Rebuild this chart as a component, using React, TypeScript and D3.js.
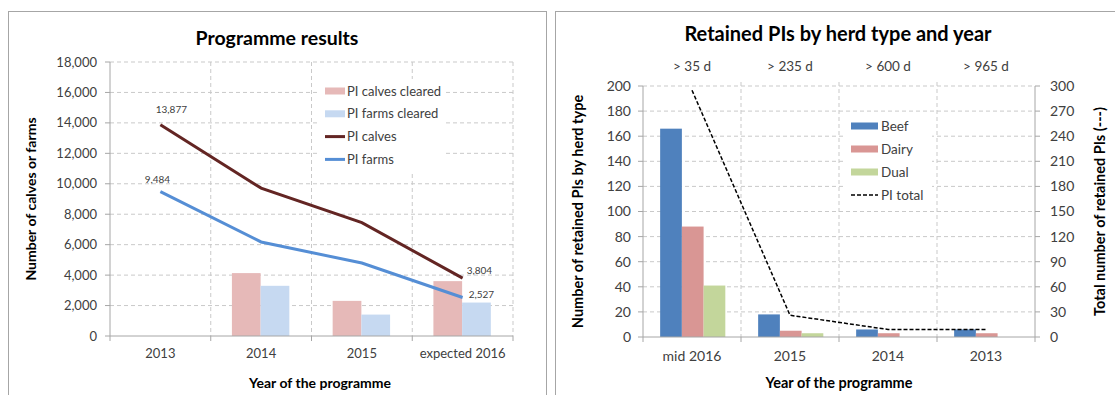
import React from 'react';
import * as d3 from 'd3';

// Programme results (left chart)
const yearsL = ['2013', '2014', '2015', 'expected 2016'];
const piCalves = [13877, 9714, 7444, 3804];
const piFarms = [9484, 6178, 4791, 2527];
const calvesCleared = [0, 4132, 2308, 3604];
const farmsCleared = [0, 3297, 1407, 2198];
const yTicksL = [0, 2000, 4000, 6000, 8000, 10000, 12000, 14000, 16000, 18000];

// Retained PIs by herd type and year (right chart)
const yearsR = ['mid 2016', '2015', '2014', '2013'];
const periodsR = ['> 35 d', '> 235 d', '> 600 d', '> 965 d'];
const beef = [166, 18, 6, 6];
const dairy = [88, 5, 3, 3];
const dual = [41, 3, 0, 0];
const piTotal = [295, 26, 9, 9];
const yTicksR = [0, 20, 40, 60, 80, 100, 120, 140, 160, 180, 200];
const yTicksR2 = [0, 30, 60, 90, 120, 150, 180, 210, 240, 270, 300];

const FONT = 'Lato, "Open Sans", "DejaVu Sans", sans-serif';
const GRID = '#C9C9C9';
const AXIS = '#A6A6A6';
const TICK_TEXT = '#404040';

const C_CALVES_BAR = '#E6B9B8';
const C_FARMS_BAR = '#C6D9F1';
const C_CALVES_LINE = '#632523';
const C_FARMS_LINE = '#558ED5';
const C_BEEF = '#4F81BD';
const C_DAIRY = '#D99694';
const C_DUAL = '#C3D69B';

const fmt = d3.format(',');

function LeftChart() {
  const x = d3.scaleBand<string>().domain(yearsL).range([110, 513]);
  const y = d3.scaleLinear().domain([0, 18000]).range([336, 62]);
  const bw = x.bandwidth();
  const inner = d3.scaleBand<string>().domain(['calves', 'farms']).range([bw * 0.21, bw * 0.78]);
  const cx = (c: string) => (x(c) as number) + bw / 2;

  const line = d3
    .line<number>()
    .x((_, i) => cx(yearsL[i]))
    .y((d) => y(d));

  const boundaries = yearsL.map((c) => (x(c) as number) + bw);

  const calvesPts = piCalves.map((v, i) => [cx(yearsL[i]), y(v)]);
  const farmsPts = piFarms.map((v, i) => [cx(yearsL[i]), y(v)]);
  const last = yearsL.length - 1;

  const legendRows = [
    { label: 'PI calves cleared', kind: 'bar', color: C_CALVES_BAR },
    { label: 'PI farms cleared', kind: 'bar', color: C_FARMS_BAR },
    { label: 'PI calves', kind: 'line', color: C_CALVES_LINE },
    { label: 'PI farms', kind: 'line', color: C_FARMS_LINE },
  ];

  return (
    <g fontFamily={FONT}>
      <rect x={8.5} y={11.5} width={538} height={400} fill="#fff" stroke={AXIS} strokeWidth={1} />
      <text x={277} y={45} textAnchor="middle" fontSize={19.5} fontWeight="bold" fill="#000">
        Programme results
      </text>

      {/* grid */}
      {yTicksL.slice(1).map((t) => (
        <line key={'h' + t} x1={110} x2={513} y1={y(t)} y2={y(t)} stroke={GRID} strokeDasharray="4,3" />
      ))}
      {boundaries.map((b, i) => (
        <line key={'v' + i} x1={b} x2={b} y1={y(18000)} y2={y(0)} stroke={GRID} strokeDasharray="4,3" />
      ))}

      {/* bars */}
      {yearsL.map((c, i) => (
        <g key={'b' + c}>
          {calvesCleared[i] > 0 && (
            <rect
              x={(x(c) as number) + (inner('calves') as number)}
              y={y(calvesCleared[i])}
              width={inner.bandwidth()}
              height={y(0) - y(calvesCleared[i])}
              fill={C_CALVES_BAR}
            />
          )}
          {farmsCleared[i] > 0 && (
            <rect
              x={(x(c) as number) + (inner('farms') as number)}
              y={y(farmsCleared[i])}
              width={inner.bandwidth()}
              height={y(0) - y(farmsCleared[i])}
              fill={C_FARMS_BAR}
            />
          )}
        </g>
      ))}

      {/* axes */}
      <line x1={110} x2={110} y1={y(18000)} y2={y(0)} stroke={AXIS} />
      <line x1={110} x2={513} y1={y(0)} y2={y(0)} stroke={AXIS} />
      {yTicksL.map((t) => (
        <g key={'yt' + t}>
          <line x1={105} x2={110} y1={y(t)} y2={y(t)} stroke={AXIS} />
          <text x={97} y={y(t)} dy="0.35em" textAnchor="end" fontSize={13} fill={TICK_TEXT}>
            {fmt(t)}
          </text>
        </g>
      ))}
      {[110, ...boundaries].map((b, i) => (
        <line key={'xt' + i} x1={b} x2={b} y1={y(0)} y2={y(0) + 5} stroke={AXIS} />
      ))}
      {yearsL.map((c) => (
        <text key={'xl' + c} x={cx(c)} y={358} textAnchor="middle" fontSize={13} fill={TICK_TEXT}>
          {c}
        </text>
      ))}

      {/* lines */}
      <path d={line(piCalves) as string} fill="none" stroke={C_CALVES_LINE} strokeWidth={3} />
      <path d={line(piFarms) as string} fill="none" stroke={C_FARMS_LINE} strokeWidth={3} />

      {/* data labels */}
      <g fontSize={10} fill={TICK_TEXT}>
        <text x={calvesPts[0][0] + 11} y={calvesPts[0][1] - 12} textAnchor="middle">
          {fmt(piCalves[0])}
        </text>
        <text x={farmsPts[0][0] - 3} y={farmsPts[0][1] - 9} textAnchor="middle">
          {fmt(piFarms[0])}
        </text>
        <text x={calvesPts[last][0] + 4} y={calvesPts[last][1] - 4} textAnchor="start">
          {fmt(piCalves[last])}
        </text>
        <text x={farmsPts[last][0] + 6} y={farmsPts[last][1] - 0} textAnchor="start">
          {fmt(piFarms[last])}
        </text>
      </g>

      {/* legend */}
      <rect x={320} y={79} width={126} height={92} fill="#fff" />
      {legendRows.map((r, i) => {
        const ry = 91 + i * 22.8;
        return (
          <g key={'lg' + i}>
            {r.kind === 'bar' ? (
              <rect x={325} y={ry - 3.5} width={20} height={7} fill={r.color} />
            ) : (
              <line x1={325} x2={345} y1={ry} y2={ry} stroke={r.color} strokeWidth={3} />
            )}
            <text x={347} y={ry} dy="0.35em" fontSize={13} fill={TICK_TEXT}>
              {r.label}
            </text>
          </g>
        );
      })}

      {/* axis titles */}
      <text
        transform={`translate(36,${(y(0) + y(18000)) / 2}) rotate(-90)`}
        textAnchor="middle"
        fontSize={14}
        fontWeight="bold"
        fill="#000"
      >
        Number of calves or farms
      </text>
      <text x={320} y={388} textAnchor="middle" fontSize={14} fontWeight="bold" fill="#000">
        Year of the programme
      </text>
    </g>
  );
}

function RightChart() {
  const x = d3.scaleBand<string>().domain(yearsR).range([643, 1035]);
  const y = d3.scaleLinear().domain([0, 200]).range([337, 86]);
  const y2 = d3.scaleLinear().domain([0, 300]).range([337, 86]);
  const bw = x.bandwidth();
  const inner = d3.scaleBand<string>().domain(['beef', 'dairy', 'dual']).range([bw * 0.175, bw * 0.84]);
  const cx = (c: string) => (x(c) as number) + bw / 2;
  const boundaries = yearsR.map((c) => (x(c) as number) + bw);

  const totalLine = d3
    .line<number>()
    .x((_, i) => cx(yearsR[i]))
    .y((d) => y2(d));

  const series = [
    { key: 'beef', values: beef, color: C_BEEF, label: 'Beef' },
    { key: 'dairy', values: dairy, color: C_DAIRY, label: 'Dairy' },
    { key: 'dual', values: dual, color: C_DUAL, label: 'Dual' },
  ];

  return (
    <g fontFamily={FONT}>
      <rect x={555.5} y={11.5} width={600} height={400} fill="#fff" stroke={AXIS} strokeWidth={1} />
      <text x={838} y={41} textAnchor="middle" fontSize={20} fontWeight="bold" fill="#000">
        Retained PIs by herd type and year
      </text>

      {/* top period labels */}
      {periodsR.map((p, i) => (
        <text key={'p' + i} x={cx(yearsR[i])} y={71} textAnchor="middle" fontSize={13.5} fill={TICK_TEXT}>
          {p}
        </text>
      ))}

      {/* grid */}
      {yTicksR.slice(1).map((t) => (
        <line key={'h' + t} x1={643} x2={1035} y1={y(t)} y2={y(t)} stroke={GRID} strokeDasharray="4,3" />
      ))}
      {boundaries.slice(0, -1).map((b, i) => (
        <line key={'v' + i} x1={b} x2={b} y1={y(200) - 4} y2={y(0)} stroke={GRID} strokeDasharray="4,3" />
      ))}

      {/* bars */}
      {yearsR.map((c, i) => (
        <g key={'b' + c}>
          {series.map((s) =>
            s.values[i] > 0 ? (
              <rect
                key={s.key}
                x={(x(c) as number) + (inner(s.key) as number)}
                y={y(s.values[i])}
                width={inner.bandwidth()}
                height={y(0) - y(s.values[i])}
                fill={s.color}
              />
            ) : null
          )}
        </g>
      ))}

      {/* axes */}
      <line x1={643} x2={643} y1={y(200)} y2={y(0)} stroke={AXIS} />
      <line x1={1035} x2={1035} y1={y(200)} y2={y(0)} stroke={AXIS} />
      <line x1={643} x2={1035} y1={y(0)} y2={y(0)} stroke={AXIS} />
      {yTicksR.map((t) => (
        <g key={'yt' + t}>
          <line x1={638} x2={643} y1={y(t)} y2={y(t)} stroke={AXIS} />
          <text x={631} y={y(t)} dy="0.35em" textAnchor="end" fontSize={14} fill={TICK_TEXT}>
            {t}
          </text>
        </g>
      ))}
      {yTicksR2.map((t) => (
        <g key={'yt2' + t}>
          <line x1={1035} x2={1040} y1={y2(t)} y2={y2(t)} stroke={AXIS} />
          <text x={1050} y={y2(t)} dy="0.35em" textAnchor="start" fontSize={14} fill={TICK_TEXT}>
            {t}
          </text>
        </g>
      ))}
      {[643, ...boundaries].map((b, i) => (
        <line key={'xt' + i} x1={b} x2={b} y1={y(0)} y2={y(0) + 5} stroke={AXIS} />
      ))}
      {yearsR.map((c) => (
        <text key={'xl' + c} x={cx(c)} y={361} textAnchor="middle" fontSize={14} fill={TICK_TEXT}>
          {c}
        </text>
      ))}

      {/* PI total */}
      <path
        d={totalLine(piTotal) as string}
        fill="none"
        stroke="#000"
        strokeWidth={1.5}
        strokeDasharray="4,2"
      />

      {/* legend */}
      <rect x={846} y={114} width={86} height={92} fill="#fff" />
      {series.map((s, i) => {
        const ry = 126 + i * 23;
        return (
          <g key={'lg' + s.key}>
            <rect x={851} y={ry - 3.5} width={27} height={7} fill={s.color} />
            <text x={881} y={ry} dy="0.35em" fontSize={13.5} fill={TICK_TEXT}>
              {s.label}
            </text>
          </g>
        );
      })}
      <line x1={851} x2={878} y1={195} y2={195} stroke="#000" strokeWidth={1.5} strokeDasharray="4,2" />
      <text x={881} y={195} dy="0.35em" fontSize={13.5} fill={TICK_TEXT}>
        PI total
      </text>

      {/* axis titles */}
      <text
        transform={`translate(583,${(y(0) + y(200)) / 2}) rotate(-90)`}
        textAnchor="middle"
        fontSize={14.5}
        fontWeight="bold"
        fill="#000"
      >
        Number of retained PIs by herd type
      </text>
      <text
        transform={`translate(1105,${(y(0) + y(200)) / 2}) rotate(-90)`}
        textAnchor="middle"
        fontSize={14.5}
        fontWeight="bold"
        fill="#000"
      >
        Total number of retained PIs  (---)
      </text>
      <text x={839} y={388} textAnchor="middle" fontSize={14.5} fontWeight="bold" fill="#000">
        Year of the programme
      </text>
    </g>
  );
}

export default function App() {
  return (
    <svg
      width={1115}
      height={395}
      viewBox="0 0 1115 395"
      style={{ position: 'absolute', left: 0, top: 0, background: '#fff' }}
    >
      <rect width={1115} height={395} fill="#fff" />
      <LeftChart />
      <RightChart />
    </svg>
  );
}
